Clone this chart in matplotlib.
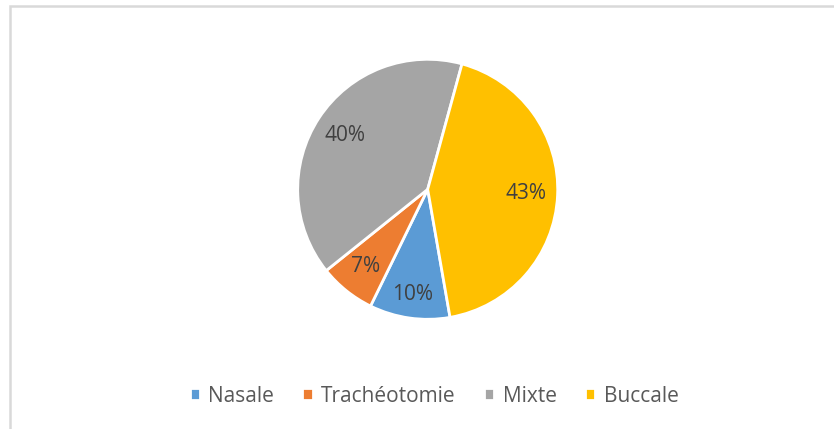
import matplotlib
matplotlib.use("Agg")
import matplotlib.pyplot as plt
from matplotlib.patches import Rectangle

categories = ["Nasale", "Trachéotomie", "Mixte", "Buccale"]
values = [10, 7, 40, 43]
colors = ["#5B9BD5", "#ED7D31", "#A5A5A5", "#FFC000"]

plt.rcParams['font.family'] = ['Open Sans', 'DejaVu Sans']

W, H = 834, 429
fig = plt.figure(figsize=(W / 100, H / 100), dpi=100)
fig.patch.set_facecolor("white")

# chart frame (only left/top edges visible)
fig.patches.append(Rectangle((10 / W, -0.1), 1.2, 1 - 6 / H + 0.1, transform=fig.transFigure,
                             fill=False, edgecolor="#D9D9D9", linewidth=1.8))

cx, cy, r = 427.7, 189.3, 130
ax = fig.add_axes([(cx - r) / W, 1 - (cy + r) / H, 2 * r / W, 2 * r / H])
wedges, texts, autotexts = ax.pie(
    values, colors=colors, startangle=90 - 170.1, counterclock=False,
    autopct=lambda p: f"{p:.0f}%", pctdistance=0.76,
    wedgeprops=dict(edgecolor="white", linewidth=2.0),
    textprops=dict(color="#404040", fontsize=15))
# Nasale label sits a bit further out in the reference
x, y = autotexts[0].get_position()
autotexts[0].set_position((x * 0.82 / 0.76, y * 0.82 / 0.76))
ax.set_xlim(-1, 1)
ax.set_ylim(-1, 1)
ax.set_aspect("equal")
ax.axis("off")

fig.legend(wedges, categories, loc="center", bbox_to_anchor=(434 / W, 1 - 396 / H),
           ncol=4, frameon=False, fontsize=15, labelcolor="#595959",
           handlelength=0.5, handleheight=0.5, handletextpad=0.4, columnspacing=1.35)

fig.savefig("out.png", dpi=100, facecolor="white")
